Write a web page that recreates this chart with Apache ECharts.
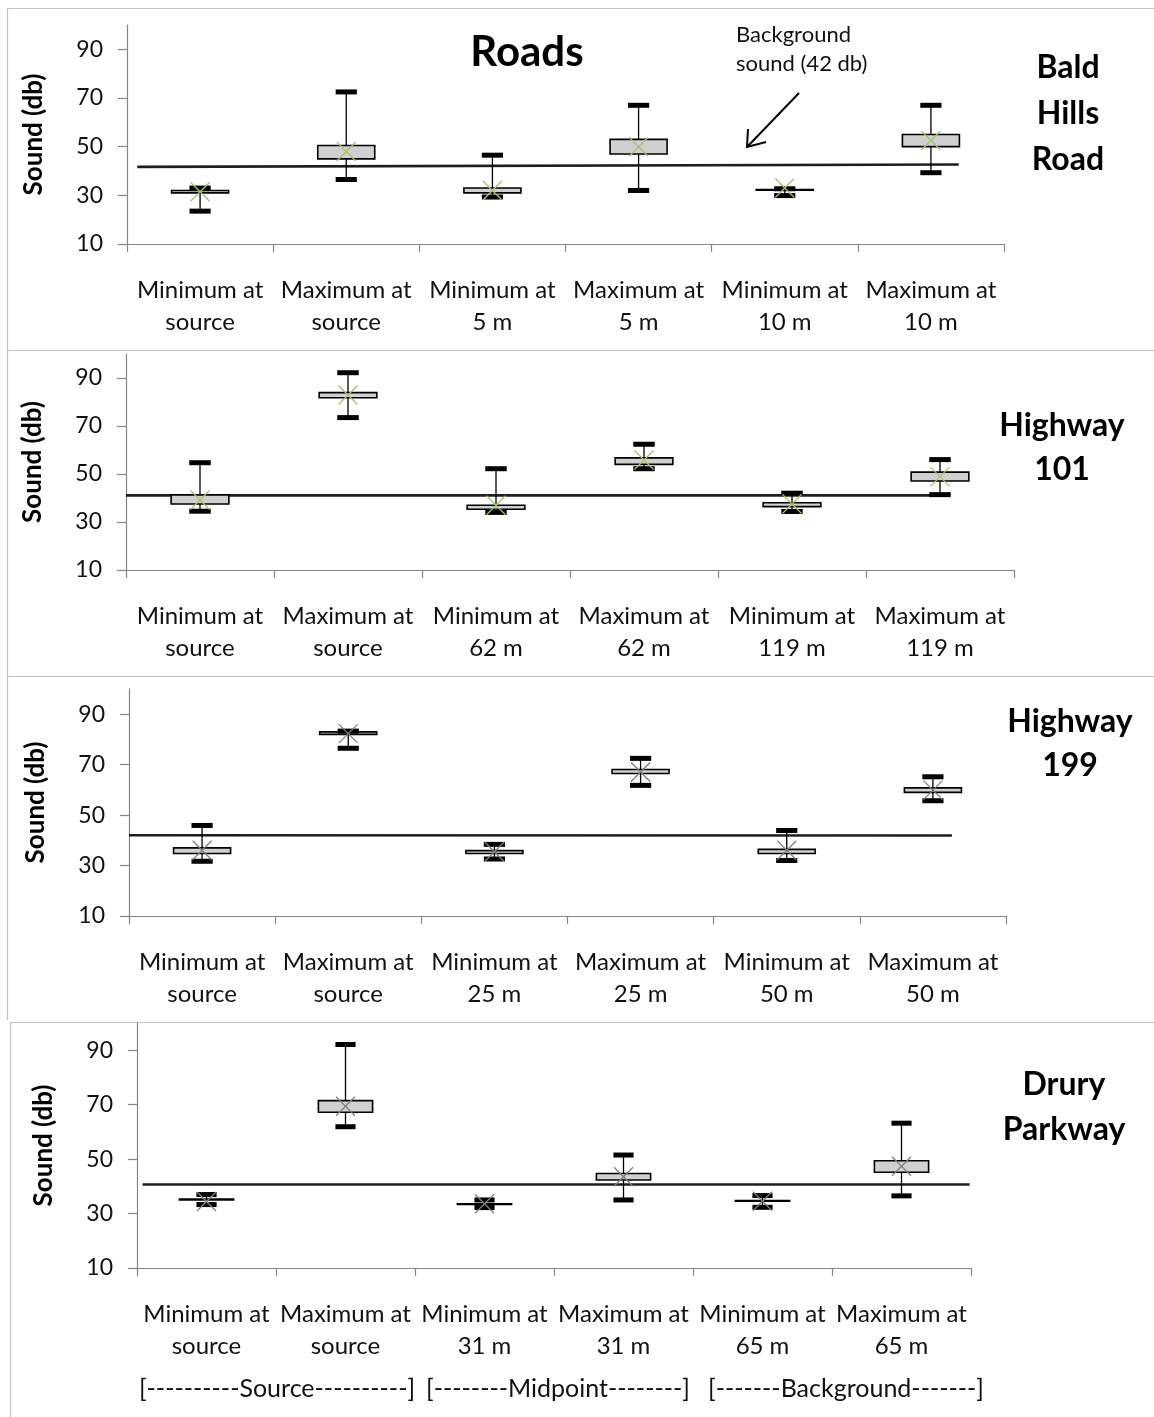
<!DOCTYPE html>
<html>
<head>
<meta charset="utf-8">
<script src="https://cdn.jsdelivr.net/npm/echarts@6/dist/echarts.min.js"></script>
<style>
html,body{margin:0;padding:0;background:#fff;}
#chart{width:1154px;height:1417px;}
</style>
</head>
<body>
<div id="chart"></div>
<script>
// ---------------- DATA ----------------
const yTickValues = [10, 30, 50, 70, 90];

const baldCategories = ['Minimum at\nsource', 'Maximum at\nsource', 'Minimum at\n5 m', 'Maximum at\n5 m', 'Minimum at\n10 m', 'Maximum at\n10 m'];
const baldMin  = [23.5, 36.5, 29.3, 32.0, 29.9, 39.3];
const baldQ1   = [31.0, 45.0, 31.0, 47.0, 32.1, 50.0];
const baldQ3   = [32.0, 50.5, 33.0, 53.0, 32.4, 55.0];
const baldMax  = [33.0, 72.5, 46.5, 67.0, 32.7, 67.0];
const baldMean = [31.5, 48.0, 32.0, 50.0, 33.0, 52.5];
const baldBg   = [41.7, 42.7];
const baldBgX  = [0.07, 5.69];

const hw101Categories = ['Minimum at\nsource', 'Maximum at\nsource', 'Minimum at\n62 m', 'Maximum at\n62 m', 'Minimum at\n119 m', 'Maximum at\n119 m'];
const hw101Min  = [34.5, 73.5, 34.0, 52.2, 34.4, 41.4];
const hw101Q1   = [37.5, 81.8, 35.3, 54.0, 36.4, 47.1];
const hw101Q3   = [41.3, 83.9, 37.0, 56.7, 38.0, 50.8];
const hw101Max  = [54.7, 92.2, 52.2, 62.4, 42.0, 56.0];
const hw101Mean = [39.2, 82.9, 37.0, 55.8, 37.5, 48.9];
const hw101Bg   = [41.1, 41.1];
const hw101BgX  = [0, 5.55];

const hw199Categories = ['Minimum at\nsource', 'Maximum at\nsource', 'Minimum at\n25 m', 'Maximum at\n25 m', 'Minimum at\n50 m', 'Maximum at\n50 m'];
const hw199Min  = [31.7, 76.5, 32.6, 61.8, 32.0, 55.7];
const hw199Q1   = [34.8, 82.0, 34.8, 66.5, 34.8, 59.0];
const hw199Q3   = [37.0, 83.0, 35.9, 68.1, 36.4, 60.8];
const hw199Max  = [45.9, 83.3, 38.4, 72.5, 43.9, 65.2];
const hw199Mean = [36.1, 82.3, 35.5, 67.1, 36.1, 59.9];
const hw199Bg   = [42.0, 41.9];
const hw199BgX  = [0, 5.63];

const druryCategories = ['Minimum at\nsource', 'Maximum at\nsource', 'Minimum at\n31 m', 'Maximum at\n31 m', 'Minimum at\n65 m', 'Maximum at\n65 m'];
const druryMin  = [33.3, 61.9, 32.2, 35.0, 32.3, 36.5];
const druryQ1   = [35.0, 67.2, 33.3, 42.3, 34.5, 45.2];
const druryQ3   = [35.3, 71.5, 33.6, 44.7, 34.8, 49.4];
const druryMax  = [37.0, 92.1, 35.0, 51.5, 36.6, 63.2];
const druryMean = [34.4, 69.4, 33.6, 43.5, 34.5, 47.4];
const druryBg   = [40.7, 40.7];
const druryBgX  = [0.04, 5.99];

const groupLabels = ['[----------Source----------]', '[--------Midpoint--------]', '[-------Background-------]'];

// ---------------- LAYOUT / STYLE ----------------
const FONT = 'Lato, "Open Sans", "Noto Sans", sans-serif';
const panels = [
  {cats: baldCategories, min: baldMin, q1: baldQ1, q3: baldQ3, max: baldMax, mean: baldMean, bg: baldBg, bgX: baldBgX,
   grid: {left: 127, top: 25, width: 877, height: 219}, markColor: '#a4c46c'},
  {cats: hw101Categories, min: hw101Min, q1: hw101Q1, q3: hw101Q3, max: hw101Max, mean: hw101Mean, bg: hw101Bg, bgX: hw101BgX,
   grid: {left: 126, top: 354, width: 888, height: 216}, markColor: '#a4c46c'},
  {cats: hw199Categories, min: hw199Min, q1: hw199Q1, q3: hw199Q3, max: hw199Max, mean: hw199Mean, bg: hw199Bg, bgX: hw199BgX,
   grid: {left: 129, top: 689, width: 877, height: 227}, markColor: '#7f7f7f'},
  {cats: druryCategories, min: druryMin, q1: druryQ1, q3: druryQ3, max: druryMax, mean: druryMean, bg: druryBg, bgX: druryBgX,
   grid: {left: 137, top: 1023, width: 834, height: 245}, markColor: '#7f7f7f'}
];

function boxRenderer(markColor) {
  return function (params, api) {
    const i = api.value(0);
    const pMin = api.coord([i, api.value(1)]);
    const pQ1 = api.coord([i, api.value(2)]);
    const pQ3 = api.coord([i, api.value(3)]);
    const pMax = api.coord([i, api.value(4)]);
    const pMean = api.coord([i, api.value(5)]);
    const band = api.size([1, 0])[0];
    const bw = band * 0.39, cw = band * 0.145, ch = 5, m = 9.5;
    const x = pMin[0];
    return {
      type: 'group',
      children: [
        {type: 'line', shape: {x1: x, y1: pMax[1], x2: x, y2: pMin[1]}, style: {stroke: '#000', lineWidth: 1.3}},
        {type: 'rect', shape: {x: x - bw / 2, y: pQ3[1], width: bw, height: Math.max(pQ1[1] - pQ3[1], 0.5)},
         style: {fill: '#d0d0d0', stroke: '#000', lineWidth: 1.6}},
        {type: 'rect', shape: {x: x - cw / 2, y: pMax[1] - ch / 2, width: cw, height: ch}, style: {fill: '#000'}},
        {type: 'rect', shape: {x: x - cw / 2, y: pMin[1] - ch / 2, width: cw, height: ch}, style: {fill: '#000'}},
        {type: 'line', shape: {x1: x - m, y1: pMean[1] - m, x2: x + m, y2: pMean[1] + m}, style: {stroke: markColor, lineWidth: 1.3}},
        {type: 'line', shape: {x1: x - m, y1: pMean[1] + m, x2: x + m, y2: pMean[1] - m}, style: {stroke: markColor, lineWidth: 1.3}}
      ]
    };
  };
}

const grids = [], xAxes = [], yAxes = [], series = [];
panels.forEach((p, g) => {
  grids.push(Object.assign({containLabel: false}, p.grid));
  xAxes.push({
    type: 'category', gridIndex: g, data: p.cats, boundaryGap: true,
    axisLine: {show: true, lineStyle: {color: '#868686', width: 1.2}},
    axisTick: {show: true, length: 8, lineStyle: {color: '#868686', width: 1.2}},
    axisLabel: {interval: 0, color: '#111', fontFamily: FONT, fontSize: 24, lineHeight: 32, margin: 30}
  });
  xAxes.push({type: 'value', gridIndex: g, min: 0, max: 6, show: false});
  yAxes.push({
    type: 'value', gridIndex: g, min: 10, max: 100,
    name: 'Sound (db)', nameLocation: 'middle', nameGap: 80,
    nameTextStyle: {color: '#000', fontFamily: FONT, fontWeight: 'bold', fontSize: 26},
    splitLine: {show: false},
    axisLine: {show: true, lineStyle: {color: '#868686', width: 1.2}},
    axisTick: {show: true, length: 9, customValues: yTickValues, lineStyle: {color: '#868686', width: 1.2}},
    axisLabel: {customValues: yTickValues, color: '#111', fontFamily: FONT, fontSize: 23, margin: 24}
  });
  series.push({
    type: 'line', xAxisIndex: g * 2 + 1, yAxisIndex: g, symbol: 'none', z: 2, silent: true,
    lineStyle: {color: '#1e1e1e', width: 2.6},
    data: [[p.bgX[0], p.bg[0]], [p.bgX[1], p.bg[1]]]
  });
  series.push({
    type: 'custom', xAxisIndex: g * 2, yAxisIndex: g, z: 3, silent: true,
    renderItem: boxRenderer(p.markColor),
    encode: {x: 0, y: [1, 2, 3, 4, 5]},
    data: p.min.map((v, i) => [i, v, p.q1[i], p.q3[i], p.max[i], p.mean[i]])
  });
});

const frameColor = '#c3c3c3';
const graphic = [
  {type: 'line', shape: {x1: 7, y1: 8.5, x2: 1160, y2: 8.5}, style: {stroke: frameColor, lineWidth: 1.2}},
  {type: 'line', shape: {x1: 7, y1: 350.5, x2: 1160, y2: 350.5}, style: {stroke: frameColor, lineWidth: 1.2}},
  {type: 'line', shape: {x1: 7, y1: 676.5, x2: 1160, y2: 676.5}, style: {stroke: frameColor, lineWidth: 1.2}},
  {type: 'line', shape: {x1: 10, y1: 1022.5, x2: 1160, y2: 1022.5}, style: {stroke: frameColor, lineWidth: 1.2}},
  {type: 'line', shape: {x1: 7.5, y1: 8, x2: 7.5, y2: 1020}, style: {stroke: frameColor, lineWidth: 1.2}},
  {type: 'line', shape: {x1: 10.5, y1: 1022, x2: 10.5, y2: 1420}, style: {stroke: frameColor, lineWidth: 1.2}},
  {type: 'text', x: 527, y: 52, style: {text: 'Roads', fill: '#000', font: 'bold 42px ' + FONT, textAlign: 'center', textVerticalAlign: 'middle'}},
  {type: 'text', x: 1068, y: 114, style: {text: 'Bald\nHills\nRoad', fill: '#000', font: 'bold 32px ' + FONT, lineHeight: 46, textAlign: 'center', textVerticalAlign: 'middle'}},
  {type: 'text', x: 1062, y: 448, style: {text: 'Highway\n101', fill: '#000', font: 'bold 32px ' + FONT, lineHeight: 44, textAlign: 'center', textVerticalAlign: 'middle'}},
  {type: 'text', x: 1070, y: 744, style: {text: 'Highway\n199', fill: '#000', font: 'bold 32px ' + FONT, lineHeight: 44, textAlign: 'center', textVerticalAlign: 'middle'}},
  {type: 'text', x: 1064, y: 1107, style: {text: 'Drury\nParkway', fill: '#000', font: 'bold 32px ' + FONT, lineHeight: 45, textAlign: 'center', textVerticalAlign: 'middle'}},
  {type: 'text', x: 736, y: 49, style: {text: 'Background\nsound (42 db)', fill: '#111', font: '22px ' + FONT, lineHeight: 29, textAlign: 'left', textVerticalAlign: 'middle'}},
  {type: 'line', shape: {x1: 799, y1: 93, x2: 748, y2: 146}, style: {stroke: '#000', lineWidth: 2}},
  {type: 'polyline', shape: {points: [[748, 129], [747, 147], [766, 142]]}, style: {stroke: '#000', lineWidth: 2, fill: null}},
  {type: 'text', x: 277, y: 1389, style: {text: groupLabels[0], fill: '#111', font: '25px ' + FONT, textAlign: 'center', textVerticalAlign: 'middle'}},
  {type: 'text', x: 558, y: 1389, style: {text: groupLabels[1], fill: '#111', font: '25px ' + FONT, textAlign: 'center', textVerticalAlign: 'middle'}},
  {type: 'text', x: 846, y: 1389, style: {text: groupLabels[2], fill: '#111', font: '25px ' + FONT, textAlign: 'center', textVerticalAlign: 'middle'}}
];

const chart = echarts.init(document.getElementById('chart'), null, {renderer: 'canvas'});
chart.setOption({
  animation: false,
  backgroundColor: '#fff',
  grid: grids,
  xAxis: xAxes,
  yAxis: yAxes,
  series: series,
  graphic: graphic
});
</script>
</body>
</html>
